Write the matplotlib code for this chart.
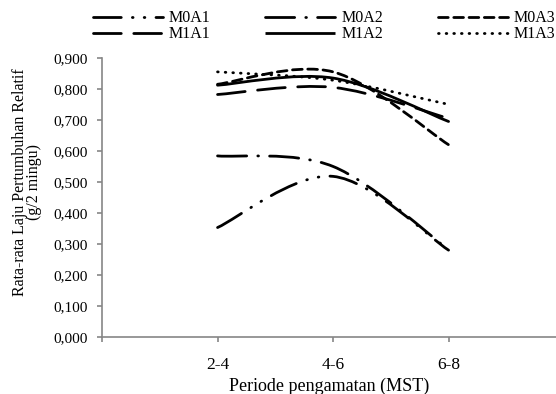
import numpy as np
import matplotlib
matplotlib.use("Agg")
import matplotlib.pyplot as plt
from matplotlib.path import Path
from matplotlib.patches import PathPatch
from matplotlib.lines import Line2D

plt.rcParams['font.family'] = ['Liberation Serif', 'DejaVu Serif']
plt.rcParams['lines.scale_dashes'] = False

categories = ["2-4", "4-6", "6-8"]
M0A1 = [0.353, 0.518, 0.280]
M0A2 = [0.584, 0.550, 0.282]
M0A3 = [0.815, 0.855, 0.620]
M1A1 = [0.782, 0.805, 0.705]
M1A2 = [0.812, 0.835, 0.695]
M1A3 = [0.855, 0.828, 0.750]
series_names = ["M0A1", "M0A2", "M0A3", "M1A1", "M1A2", "M1A3"]
series_vals = [M0A1, M0A2, M0A3, M1A1, M1A2, M1A3]
yticks = [0.0, 0.1, 0.2, 0.3, 0.4, 0.5, 0.6, 0.7, 0.8, 0.9]

styles = {
    "M0A1": (0, (20, 8, 0.5, 8, 0.5, 8)),
    "M0A2": (0, (21, 8, 0.5, 8)),
    "M0A3": (0, (7, 4)),
    "M1A1": (0, (20, 9)),
    "M1A2": "solid",
    "M1A3": (0, (0.5, 5)),
}

fig = plt.figure(figsize=(5.56, 3.94), dpi=100)
ax = fig.add_axes([0.1835, 0.1447, 1.0 - 0.1835, 0.853 - 0.1447])

xs = np.arange(1, len(categories) + 1, dtype=float)


def smooth_path(x, y, t=1/6):
    pts = np.column_stack([x, y])
    n = len(pts)
    verts = [pts[0]]
    codes = [Path.MOVETO]
    for i in range(n - 1):
        p0 = pts[i - 1] if i > 0 else pts[i]
        p1 = pts[i]
        p2 = pts[i + 1]
        p3 = pts[i + 2] if i + 2 < n else pts[i + 1]
        c1 = p1 + (p2 - p0) * t
        c2 = p2 - (p3 - p1) * t
        verts += [c1, c2, p2]
        codes += [Path.CURVE4] * 3
    return Path(np.array(verts), codes)


handles = {}
for name, vals in zip(series_names, series_vals):
    path = smooth_path(xs, np.array(vals))
    patch = PathPatch(path, facecolor='none', edgecolor='black', linewidth=2.0,
                      linestyle=styles[name], capstyle='round', joinstyle='round',
                      transform=ax.transData)
    ax.add_patch(patch)
    handles[name] = Line2D([], [], color='black', linewidth=2.0,
                           linestyle=styles[name], dash_capstyle='round',
                           solid_capstyle='butt')

ax.set_xlim(0, 3.93)
ax.set_ylim(0, 0.9)
ax.set_xticks([0] + list(xs))
ax.set_xticklabels([""] + categories, fontsize=12.5)
ax.set_yticks(yticks)
ax.set_yticklabels([f"{v:.3f}".replace('.', ',') for v in yticks], fontsize=11)

for s in ['top', 'right']:
    ax.spines[s].set_visible(False)
for s in ['left', 'bottom']:
    ax.spines[s].set_color('#868686')
    ax.spines[s].set_linewidth(1.2)
ax.tick_params(axis='both', direction='out', length=3.6, width=1.2, color='#868686',
               pad=7)
ax.tick_params(axis='x', pad=11)

ax.set_xlabel("Periode pengamatan (MST)", fontsize=13, labelpad=3)
fig.text(0.049, 0.538, "Rata-rata Laju Pertumbuhan Relatif\n(g/2 mingu)", rotation=90,
         ha='center', va='center', fontsize=11.5, linespacing=0.85)

order = ["M0A1", "M1A1", "M0A2", "M1A2", "M0A3", "M1A3"]
fig.legend([handles[n] for n in order], order, ncol=3, loc='upper left',
           bbox_to_anchor=(0.155, 0.99), frameon=False, fontsize=11.5,
           handlelength=4.38, handletextpad=0.37, columnspacing=3.45,
           labelspacing=0.0, borderaxespad=0)

fig.savefig("out.png", dpi=100)
